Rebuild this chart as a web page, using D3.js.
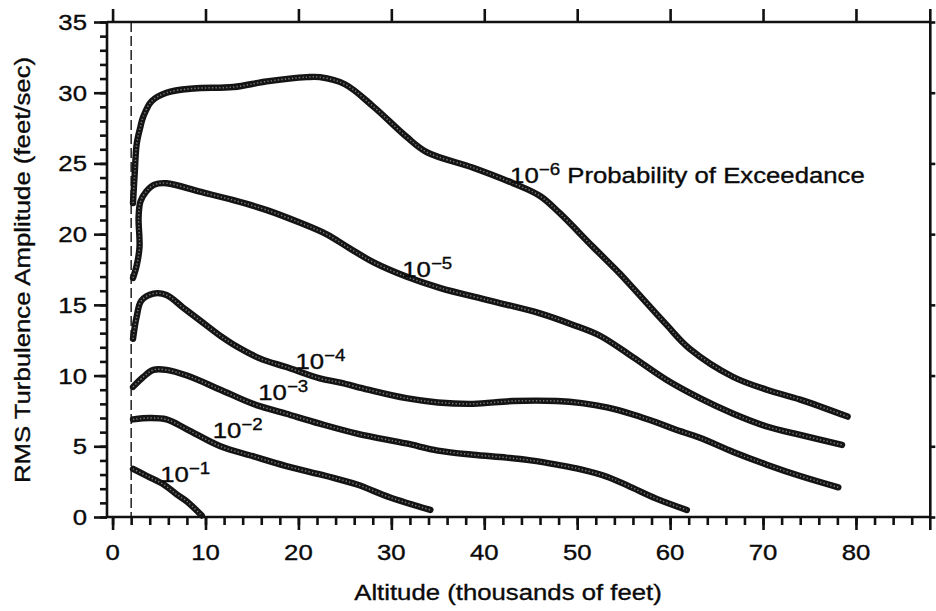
<!DOCTYPE html>
<html>
<head>
<meta charset="utf-8">
<script src="https://cdn.jsdelivr.net/npm/d3@7"></script>
<style>
  html, body { margin: 0; padding: 0; background: #fff; }
  svg { display: block; }
  text { font-family: "Liberation Sans", Arial, Helvetica, sans-serif; fill: #0a0a0a; stroke: #0a0a0a; stroke-width: 0.35px; }
</style>
</head>
<body>
<svg id="chart" width="936" height="611"></svg>
<script>
// Altitude (thousands of feet) and RMS turbulence amplitude (feet/sec)
// for each probability-of-exceedance curve.
const p6Alt = [2.2, 2.4, 2.6, 3.0, 3.3, 4.2, 5.8, 8.7, 13.0, 16.6, 20.9, 22.3, 25.0, 28.1, 31.6, 33.8, 38.8, 43.1, 46.0, 48.1, 51.7, 54.6, 56.0, 59.6, 62.1, 66.8, 70.4, 74.0, 79.1];
const p6Val = [22.2, 24.5, 26.4, 27.6, 28.3, 29.4, 30.0, 30.3, 30.4, 30.8, 31.1, 31.1, 30.6, 29.0, 26.9, 25.8, 24.7, 23.6, 22.7, 21.5, 19.1, 17.2, 16.2, 13.6, 11.9, 9.9, 9.0, 8.3, 7.1];

const p5Alt = [2.2, 2.6, 2.9, 2.8, 3.0, 3.6, 4.5, 5.8, 9.4, 13.0, 16.6, 20.2, 23.0, 25.5, 28.1, 31.6, 35.2, 40.6, 46.0, 49.5, 52.5, 56.0, 59.6, 63.2, 66.8, 70.4, 74.0, 78.5];
const p5Val = [16.9, 17.8, 19.1, 21.2, 22.3, 23.0, 23.5, 23.6, 23.0, 22.4, 21.7, 20.8, 20.0, 19.0, 18.0, 17.0, 16.2, 15.3, 14.4, 13.6, 12.8, 11.3, 9.7, 8.4, 7.3, 6.4, 5.8, 5.1];

const p4Alt = [2.2, 2.6, 3.1, 4.4, 5.8, 7.6, 9.4, 11.6, 13.0, 15.9, 18.7, 22.3, 24.5, 27.5, 31.6, 35.0, 38.8, 43.1, 47.8, 50.5, 53.2, 56.0, 58.5, 60.5, 63.2, 66.8, 70.4, 74.0, 78.1];
const p4Val = [12.6, 14.2, 15.3, 15.8, 15.7, 14.8, 13.9, 12.8, 12.2, 11.2, 10.6, 9.8, 9.5, 9.0, 8.4, 8.1, 8.0, 8.2, 8.2, 8.05, 7.75, 7.25, 6.7, 6.2, 5.6, 4.6, 3.7, 2.9, 2.1];

const p3Alt = [2.2, 3.3, 4.4, 5.8, 8.0, 11.6, 15.1, 18.7, 22.3, 26.3, 31.6, 35.0, 38.8, 42.4, 45.0, 47.8, 50.5, 53.2, 55.5, 58.5, 61.8];
const p3Val = [9.2, 9.9, 10.4, 10.4, 10.0, 9.0, 8.0, 7.3, 6.6, 5.9, 5.2, 4.7, 4.4, 4.2, 4.0, 3.7, 3.35, 2.85, 2.2, 1.3, 0.5];

const p2Alt = [2.2, 4.0, 5.8, 8.0, 11.6, 15.1, 18.7, 23.0, 26.3, 29.8, 34.2];
const p2Val = [6.9, 7.0, 6.9, 6.2, 5.0, 4.3, 3.6, 2.9, 2.3, 1.4, 0.5];

const p1Alt = [2.2, 3.7, 5.5, 6.9, 8.0, 9.6];
const p1Val = [3.4, 2.9, 2.3, 1.6, 1.1, 0.1];

// Curve labels: exponent, anchor altitude, anchor amplitude, trailing text
const labelExp = ["6", "5", "4", "3", "2", "1"];
const labelAlt = [43.1, 31.5, 20.0, 16.0, 11.1, 5.45];
const labelVal = [23.6, 17.0, 10.5, 8.3, 5.6, 2.5];
const labelTail = [" Probability of Exceedance", "", "", "", "", ""];

// Axis ticks
const xMajorTicks = [0, 10, 20, 30, 40, 50, 60, 70, 80];
const xMinorTicks = d3.range(0, 88, 2);
const yMajorTicks = [0, 5, 10, 15, 20, 25, 30, 35];
const yMinorTicks = d3.range(0, 36, 1);
const minAltitude = 2; // dashed reference line

const xTitle = "Altitude (thousands of feet)";
const yTitle = "RMS Turbulence Amplitude (feet/sec)";

const series = [
  [p6Alt, p6Val], [p5Alt, p5Val], [p4Alt, p4Val],
  [p3Alt, p3Val], [p2Alt, p2Val], [p1Alt, p1Val]
];

const svg = d3.select("#chart");
const x = d3.scaleLinear().domain([-0.6, 88]).range([107, 930.3]);
const y = d3.scaleLinear().domain([0, 35]).range([517, 22]);
const [x0, x1] = x.range();
const [y0, y1] = y.range();
const stretch = 1.17;

// Ticks
function ticks(axis, vals, size) {
  return svg.append("g").call(axis.tickValues(vals).tickSize(size).tickSizeOuter(0).tickFormat(""))
    .call(g => g.select(".domain").remove())
    .call(g => g.selectAll("line").attr("stroke", "#111").attr("stroke-width", 2.6));
}
ticks(d3.axisBottom(x), xMinorTicks, 8).attr("transform", `translate(0,${y0})`);
ticks(d3.axisBottom(x), xMajorTicks, 13).attr("transform", `translate(0,${y0})`);
ticks(d3.axisTop(x), xMajorTicks, 13).attr("transform", `translate(0,${y1})`);
ticks(d3.axisLeft(y), yMinorTicks, 7).attr("transform", `translate(${x0},0)`);
ticks(d3.axisLeft(y), yMajorTicks, 13).attr("transform", `translate(${x0},0)`);
ticks(d3.axisRight(y), yMajorTicks, 5).attr("transform", `translate(${x1},0)`);

// Frame
const frame = svg.append("g").attr("stroke", "#111").attr("stroke-width", 2.6).attr("fill", "none");
frame.append("line").attr("x1", x0).attr("x2", x1).attr("y1", y0).attr("y2", y0);
frame.append("line").attr("x1", x0).attr("x2", x1).attr("y1", y1).attr("y2", y1);
frame.append("line").attr("x1", x0).attr("x2", x0).attr("y1", y1).attr("y2", y0);
frame.append("line").attr("x1", x1).attr("x2", x1).attr("y1", y1 - 13).attr("y2", y0 + 13);

// Tick labels
svg.append("g").selectAll("text").data(xMajorTicks).join("text")
  .attr("transform", d => `translate(${x(d)},560) scale(${stretch},1)`)
  .attr("text-anchor", "middle").attr("font-size", 22).text(d => d);
svg.append("g").selectAll("text").data(yMajorTicks).join("text")
  .attr("transform", d => `translate(87,${y(d) + 8}) scale(${stretch},1)`)
  .attr("text-anchor", "end").attr("font-size", 22).text(d => d);

// Axis titles
svg.append("text")
  .attr("transform", `translate(508,600) scale(${stretch},1)`)
  .attr("text-anchor", "middle").attr("font-size", 22).text(xTitle);
svg.append("text")
  .attr("transform", `translate(30,270) rotate(-90) scale(${stretch},1)`)
  .attr("text-anchor", "middle").attr("font-size", 22).text(yTitle);

// Dashed reference line at the minimum altitude
svg.append("line")
  .attr("x1", x(minAltitude)).attr("x2", x(minAltitude))
  .attr("y1", y1).attr("y2", y0)
  .attr("stroke", "#111").attr("stroke-width", 1.4).attr("stroke-dasharray", "10 4");

// Curves: dark beaded strokes
const line = d3.line().curve(d3.curveCatmullRom.alpha(0.5));
const curves = svg.append("g");
series.forEach(([alts, vals]) => {
  const pts = alts.map((a, i) => [x(a), y(vals[i])]);
  curves.append("path").attr("d", line(pts)).attr("fill", "none")
    .attr("stroke", "#141414").attr("stroke-width", 6.4).attr("stroke-linecap", "round").attr("stroke-linejoin", "round");
  curves.append("path").attr("d", line(pts)).attr("fill", "none")
    .attr("stroke", "#7a7a7a").attr("stroke-width", 1.5).attr("stroke-dasharray", "1.3 2.2");
});

// Curve labels
const labels = svg.append("g");
labelExp.forEach((e, i) => {
  const t = labels.append("text")
    .attr("transform", `translate(${x(labelAlt[i]) - 3},${y(labelVal[i])}) scale(${stretch},1)`)
    .attr("font-size", 22);
  t.append("tspan").text("10");
  t.append("tspan").attr("font-size", 16).attr("dy", -8).text("\u2212" + e);
  if (labelTail[i]) t.append("tspan").attr("dy", 8).text(labelTail[i]);
});
</script>
</body>
</html>
